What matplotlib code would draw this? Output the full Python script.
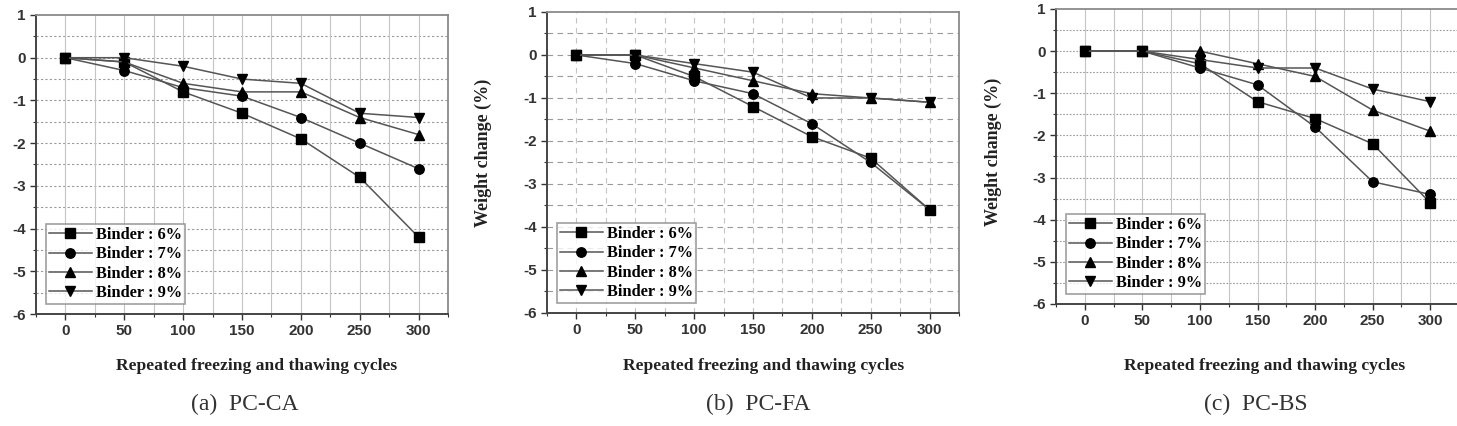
import numpy as np
import matplotlib
matplotlib.use("Agg")
import matplotlib.pyplot as plt
from matplotlib.ticker import MultipleLocator

plt.rcParams["axes.unicode_minus"] = False

# freezing / thawing cycles
cycles = [0, 50, 100, 150, 200, 250, 300]
binder_labels = ["Binder : 6%", "Binder : 7%", "Binder : 8%", "Binder : 9%"]

# weight change (%)
ca_6 = [0, -0.1, -0.8, -1.3, -1.9, -2.8, -4.2]
ca_7 = [0, -0.3, -0.7, -0.9, -1.4, -2.0, -2.6]
ca_8 = [0, -0.1, -0.6, -0.8, -0.8, -1.4, -1.8]
ca_9 = [0, 0.0, -0.2, -0.5, -0.6, -1.3, -1.4]

fa_6 = [0, 0.0, -0.5, -1.2, -1.9, -2.4, -3.6]
fa_7 = [0, -0.2, -0.6, -0.9, -1.6, -2.5, -3.6]
fa_8 = [0, 0.0, -0.3, -0.6, -0.9, -1.0, -1.1]
fa_9 = [0, 0.0, -0.2, -0.4, -1.0, -1.0, -1.1]

bs_6 = [0, 0.0, -0.3, -1.2, -1.6, -2.2, -3.6]
bs_7 = [0, 0.0, -0.4, -0.8, -1.8, -3.1, -3.4]
bs_8 = [0, 0.0, 0.0, -0.3, -0.6, -1.4, -1.9]
bs_9 = [0, 0.0, -0.2, -0.4, -0.4, -0.9, -1.2]

panel_captions = ["(a)  PC-CA", "(b)  PC-FA", "(c)  PC-BS"]
xlabel_text = "Repeated freezing and thawing cycles"
ylabel_text = "Weight change (%)"

markers = ["s", "o", "^", "v"]

fig = plt.figure(figsize=(14.57, 4.26), dpi=100)

rects = [
    [0.0247, 0.2629, 0.2828, 0.7019],
    [0.3754, 0.2653, 0.2828, 0.7066],
    [0.7248, 0.2864, 0.2766, 0.6925],
]
grid_styles = [
    dict(h=(0, (2, 2)), v="-"),
    dict(h=(0, (5, 4)), v=(0, (5, 4))),
    dict(h=(0, (1.5, 1.5)), v="-"),
]
datasets = [
    [ca_6, ca_7, ca_8, ca_9],
    [fa_6, fa_7, fa_8, fa_9],
    [bs_6, bs_7, bs_8, bs_9],
]

serif = ["Liberation Serif", "DejaVu Serif"]

for i, (rect, series, gs) in enumerate(zip(rects, datasets, grid_styles)):
    ax = fig.add_axes(rect)
    for vals, m, lab in zip(series, markers, binder_labels):
        ax.plot(cycles, vals, color="#555555", lw=1.1, marker=m, ms=6.8,
                mfc="black", mec="black", label=lab, zorder=3)
    ax.set_xlim(-25, 325)
    ax.set_ylim(-6, 1)
    ax.xaxis.set_major_locator(MultipleLocator(50))
    ax.xaxis.set_minor_locator(MultipleLocator(25))
    ax.yaxis.set_major_locator(MultipleLocator(1))
    ax.yaxis.set_minor_locator(MultipleLocator(0.5))
    # grid
    for yv in np.arange(-5.5, 1.0, 0.5):
        ax.axhline(yv, color="#9a9a9a", lw=0.8, ls=gs["h"], zorder=1)
    for xv in np.arange(0, 325, 25):
        ax.axvline(xv, color="#c4c4c4", lw=0.8, ls=gs["v"], zorder=1)
    for name, sp in ax.spines.items():
        if name in ("left", "bottom"):
            sp.set_color("#444444")
            sp.set_linewidth(1.4)
        else:
            sp.set_color("#8a8a8a")
            sp.set_linewidth(1.3)
    ax.tick_params(which="major", direction="out", length=4, width=1,
                   colors="#333333", labelsize=11)
    ax.tick_params(which="minor", direction="out", length=2.5, width=0.8,
                   colors="#333333")
    for lbl in ax.get_xticklabels() + ax.get_yticklabels():
        lbl.set_fontweight("bold")
        lbl.set_family(["Liberation Sans", "DejaVu Sans"])
    leg = ax.legend(loc="lower left", frameon=True, fancybox=False,
                    borderaxespad=0.6, handlelength=2.6, handletextpad=0.25,
                    labelspacing=0.2, borderpad=0.2,
                    prop=dict(family=serif, weight="bold", size=11.8))
    leg.get_frame().set_edgecolor("#888888")
    leg.get_frame().set_linewidth(1.2)

# x labels and captions
xlabel_x = [257, 764, 1265]
caption_x = [245, 758, 1256]
W, H = 1457.0, 426.0
for xl, xc, cap in zip(xlabel_x, caption_x, panel_captions):
    fig.text(xl / W, 1 - 366 / H, xlabel_text, ha="center", va="center",
             family=serif, weight="bold", fontsize=12.6, color="#222222")
    fig.text(xc / W, 1 - 404 / H, cap, ha="center", va="center",
             family=serif, fontsize=17, color="#333333")

# y labels (panel (a) label is cut off in the original)
for xy in [(483, 153), (993, 152)]:
    fig.text(xy[0] / W, 1 - xy[1] / H, ylabel_text, rotation=90,
             ha="center", va="center", family=serif, weight="bold",
             fontsize=13, color="#222222")

fig.savefig("out.png", dpi=100)
